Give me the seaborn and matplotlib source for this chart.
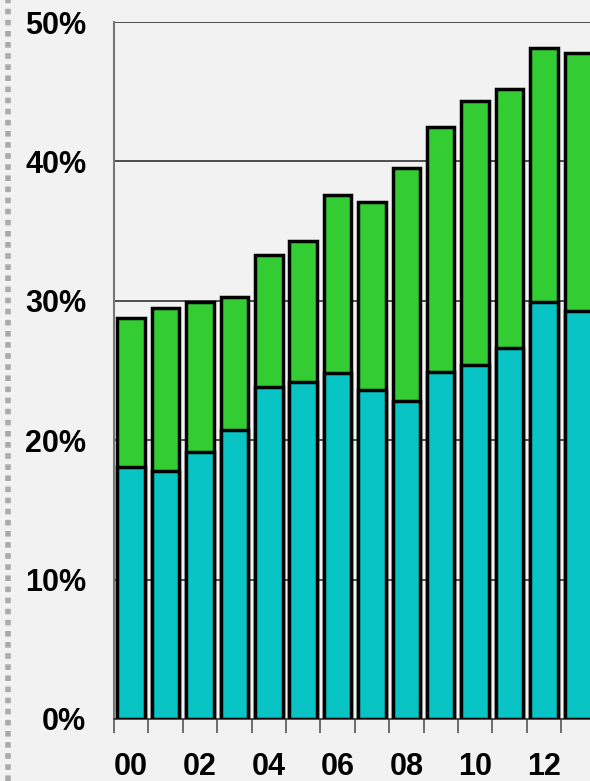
import matplotlib
matplotlib.use("Agg")
import matplotlib.pyplot as plt
import seaborn as sns
import numpy as np
import pandas as pd

years = ["00", "01", "02", "03", "04", "05", "06", "07", "08", "09", "10", "11", "12", "13"]
lower = [18.1, 17.8, 19.15, 20.7, 23.8, 24.2, 24.8, 23.6, 22.8, 24.9, 25.4, 26.6, 29.9, 29.3]
total = [28.8, 29.5, 29.9, 30.3, 33.3, 34.3, 37.6, 37.1, 39.5, 42.5, 44.3, 45.2, 48.1, 47.8]
yticks = [0, 10, 20, 30, 40, 50]

df = pd.DataFrame({"year": years, "lower": lower, "total": total})

sns.set_style("white")
plt.rcParams['font.family'] = ['Liberation Sans', 'DejaVu Sans']

bg = "#f2f2f2"
fig = plt.figure(figsize=(5.9, 7.81), dpi=100, facecolor=bg)
ax = fig.add_axes([114 / 590, (781 - 719) / 781, 1 - 114 / 590, (719 - 22) / 781])
ax.set_facecolor(bg)

# grid lines behind the bars
for v in yticks[1:]:
    ax.axhline(v, color="#333333", lw=1.2, zorder=0)

sns.barplot(data=df, x="year", y="total", color="#33cc33", width=0.8,
            edgecolor="black", linewidth=2.5, saturation=1, ax=ax, zorder=2)
sns.barplot(data=df, x="year", y="lower", color="#08c4c4", width=0.8,
            edgecolor="black", linewidth=2.5, saturation=1, ax=ax, zorder=3)

ax.set_xlim(-0.5, 13.34)
ax.set_ylim(0, 50)
ax.set_xlabel("")
ax.set_ylabel("")

ax.set_yticks(yticks)
ax.set_yticklabels([f"{v}%" for v in yticks], fontsize=22, fontweight="bold", color="black")
ax.tick_params(axis="y", length=10, width=1.2, color="#555555", pad=10)

# tick marks at category boundaries, labels on even years
ax.set_xticks(np.arange(-0.5, 13.5, 1), minor=True)
ax.set_xticks(range(0, 14, 2))
ax.set_xticklabels(years[::2], fontsize=22, fontweight="bold", color="black")
ax.tick_params(axis="x", which="major", length=0, pad=24)
ax.tick_params(axis="x", which="minor", length=10, width=1.2, color="#555555", bottom=True)

for s in ["top", "right"]:
    ax.spines[s].set_visible(False)
ax.spines["left"].set_color("#777777")
ax.spines["left"].set_linewidth(1.5)
ax.spines["bottom"].set_color("#333333")
ax.spines["bottom"].set_linewidth(1.2)

# dotted border on the left
fig.add_artist(plt.Line2D([8 / 590, 8 / 590], [0, 1], color="#aaaaaa", lw=4,
                          linestyle=(0, (1, 1)), transform=fig.transFigure))

fig.savefig("out.png", dpi=100, facecolor=bg)
